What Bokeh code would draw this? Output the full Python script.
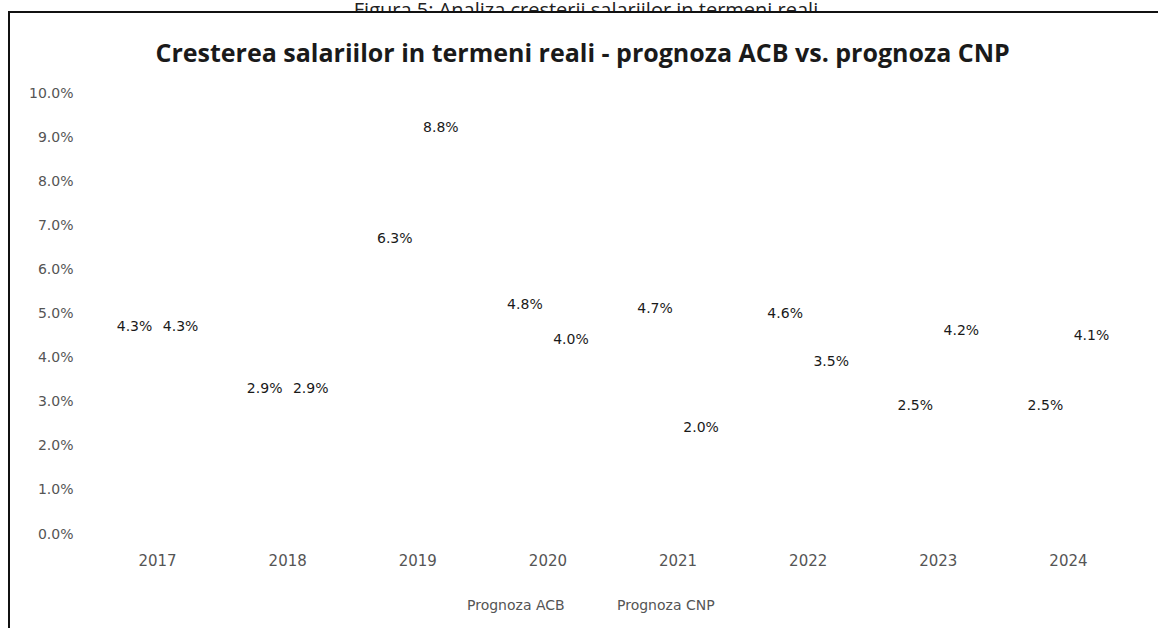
from bokeh.plotting import figure
from bokeh.layouts import column
from bokeh.models import (ColumnDataSource, FactorRange, Range1d, NumeralTickFormatter,
                          FixedTicker, Legend, LegendItem, Div)
from bokeh.transform import dodge
from bokeh.core.properties import value
from bokeh.embed import file_html
from bokeh.resources import INLINE

# ---- data ----
years = ["2017", "2018", "2019", "2020", "2021", "2022", "2023", "2024"]
acb = [0.043, 0.029, 0.063, 0.048, 0.047, 0.046, 0.025, 0.025]
cnp = [0.043, 0.029, 0.088, 0.040, 0.020, 0.035, 0.042, 0.041]
y_ticks = [0.0, 0.01, 0.02, 0.03, 0.04, 0.05, 0.06, 0.07, 0.08, 0.09, 0.10]
series_names = ["Prognoza ACB", "Prognoza CNP"]
chart_title = "Cresterea salariilor in termeni reali - prognoza ACB vs. prognoza CNP"
caption = "Figura 5: Analiza cresterii salariilor in termeni reali"

src = ColumnDataSource(dict(
    years=years, acb=acb, cnp=cnp,
    acb_lbl=[f"{v*100:.1f}%" for v in acb],
    cnp_lbl=[f"{v*100:.1f}%" for v in cnp],
))

# layout (pixels)
CAP_H = 11
W, H = 1158, 628 - CAP_H
TOP, LEFT, RIGHT = 81, 92, 25
PX_PER_UNIT = 4410.0           # 44.1 px per 1 %
frame_h = H - TOP
y_start = 0.10 - frame_h / PX_PER_UNIT

p = figure(x_range=FactorRange(*years), y_range=Range1d(y_start, 0.10),
           width=W, height=H, output_backend="svg", toolbar_location=None,
           min_border_left=LEFT, min_border_right=RIGHT, min_border_top=TOP,
           min_border_bottom=0, margin=0,
           styles={"background-color": "white",
                   "background-image": "linear-gradient(#111111, #111111), linear-gradient(#111111, #111111)",
                   "background-size": "2px 100%, 100% 2px",
                   "background-position": "8px 0px, 8px 0px",
                   "background-repeat": "no-repeat"})
p.border_fill_alpha = 0
p.background_fill_color = "white"
p.outline_line_color = None
p.xgrid.grid_line_color = None
p.ygrid.grid_line_color = None

p.title.text = chart_title
p.title.align = "left"
p.title.offset = 63
p.title.vertical_align = "top"
p.title.text_font = "Open Sans"
p.title.text_font_style = "bold"
p.title.text_font_size = "25px"
p.title.text_color = "#1a1a1a"
p.title.standoff = 43

BW = 0.354
off = BW / 2
r1 = p.vbar(x=dodge("years", -off, range=p.x_range), top="acb", width=BW, source=src,
            fill_color="white", line_color=None)
r2 = p.vbar(x=dodge("years", off, range=p.x_range), top="cnp", width=BW, source=src,
            fill_color="white", line_color=None)

lbl_font = value("DejaVu Sans")
p.text(x=dodge("years", -off, range=p.x_range), y="acb", text="acb_lbl", source=src,
       text_align="center", text_baseline="middle", y_offset=-18,
       text_font=lbl_font, text_font_size="14px", text_color="#1a1a1a")
p.text(x=dodge("years", off, range=p.x_range), y="cnp", text="cnp_lbl", source=src,
       text_align="center", text_baseline="middle", y_offset=-18,
       text_font=lbl_font, text_font_size="14px", text_color="#1a1a1a")

# axes
p.yaxis.ticker = FixedTicker(ticks=y_ticks)
p.yaxis.formatter = NumeralTickFormatter(format="0.0%")
for ax in (p.xaxis[0], p.yaxis[0]):
    ax.axis_line_color = None
    ax.major_tick_line_color = None
    ax.minor_tick_line_color = None
    ax.major_label_text_font = "DejaVu Sans"
    ax.major_label_text_font_size = "14px"
    ax.major_label_text_color = "#555555"
p.yaxis.major_label_standoff = 13
p.xaxis.fixed_location = 0
p.xaxis.major_label_standoff = 14
p.xaxis.major_label_text_font_size = "15px"

legend = Legend(items=[LegendItem(label=series_names[0], renderers=[r1]),
                       LegendItem(label=series_names[1], renderers=[r2])],
                orientation="horizontal", location=(362, 15),
                border_line_color=None, background_fill_alpha=0,
                glyph_width=8, glyph_height=8, label_standoff=5, spacing=0,
                padding=0, margin=0, label_height=16, label_width=137,
                label_text_font="DejaVu Sans", label_text_font_size="14px",
                label_text_color="#555555")
p.add_layout(legend, "center")

cap = Div(text=f'<div style="margin-top:-9px">{caption}</div>', width=W, height=CAP_H,
          margin=0,
          styles={"overflow": "hidden", "font-family": "Open Sans", "font-size": "20px",
                  "line-height": "20px", "text-align": "center", "padding-left": "14px",
                  "color": "#222222", "background-color": "white"})

layout = column(cap, p, spacing=0)
open("out.html", "w").write(file_html(layout, INLINE))
